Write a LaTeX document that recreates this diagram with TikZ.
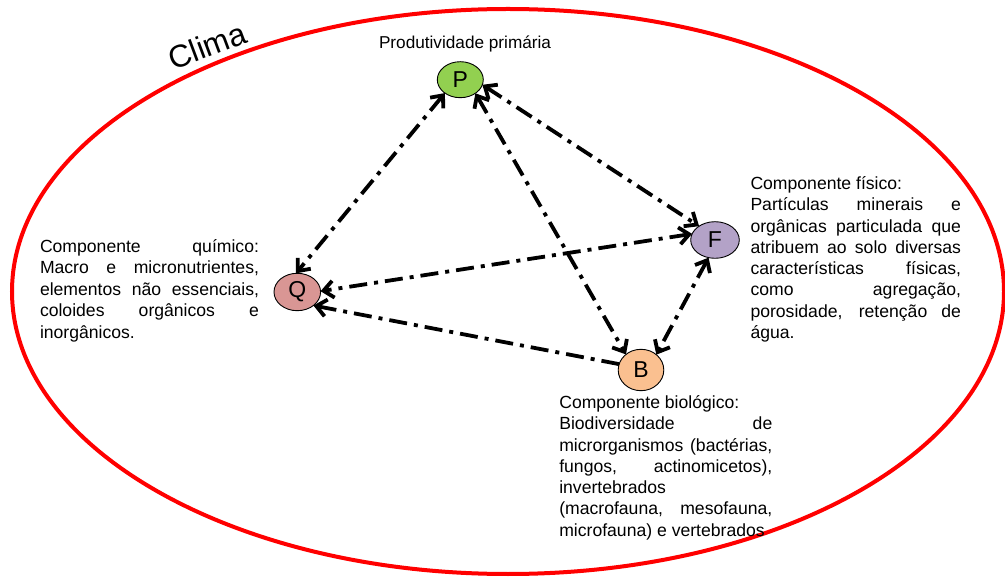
\documentclass[tikz,border=0pt]{standalone}
\usepackage{fontspec}
\setmainfont{Liberation Sans}
\usetikzlibrary{shapes.geometric,arrows.meta}
\definecolor{pgreen}{HTML}{92D050}
\definecolor{qred}{HTML}{D99694}
\definecolor{flav}{HTML}{B3A2C7}
\definecolor{bpeach}{HTML}{FAC090}
\definecolor{climared}{HTML}{FF0000}
\newcommand{\jst}[1]{\makebox[\linewidth][s]{#1}\par}
\newcommand{\rgd}[1]{\mbox{#1}\par}
\tikzset{
  comp/.style={ellipse, draw=black, line width=0.9pt, inner sep=0pt, outer sep=0pt,
    font=\fontsize{23}{25}\selectfont},
  link/.style={line width=3.8pt, dash pattern=on 18pt off 7pt on 4pt off 7pt,
    {Straight Barb[length=10pt,width=17pt]}-{Straight Barb[length=10pt,width=17pt]}},
  oneway/.style={line width=3.8pt, dash pattern=on 18pt off 7pt on 4pt off 7pt,
    -{Straight Barb[length=10pt,width=17pt]}},
  desc/.style={anchor=base west, inner sep=0pt, outer sep=0pt, align=left}
}
\begin{document}
\begin{tikzpicture}[x=1pt,y=-1pt]
\useasboundingbox (0,0) rectangle (1005,577);
% climate ellipse
\draw[climared, line width=4pt] (508,291.5) ellipse [x radius=496, y radius=282.5];
\node[rotate=20.5, anchor=base, inner sep=0pt, font=\fontsize{31.5}{34}\selectfont] (clima) at (211,56) {Clima};
% components
\node[comp, fill=pgreen, minimum width=46pt, minimum height=36pt] (P) at (460.3,79.7) {P};
\node[comp, fill=qred, minimum width=46.6pt, minimum height=37.4pt] (Q) at (297.3,292) {Q};
\node[comp, fill=flav, minimum width=48.6pt, minimum height=36.6pt] (F) at (715,240) {F};
\node[comp, fill=bpeach, minimum width=45.6pt, minimum height=41.4pt] (B) at (641,370) {B};
% connectors
\draw[link] (P.221) -- (Q.94);
\draw[link] (P.347) -- (F.139);
\draw[link] (P.318) -- (B.134);
\draw[link] (F.250) -- (B.45);
\draw[link] (F.165) -- (Q.2);
\draw[oneway] (B.165) -- (Q.320);
% texts
\node[desc, font=\fontsize{17.2}{20}\selectfont] (ptxt) at (379,49) {Produtividade primária};
\node[desc] (qtxt) at (40,252.5) {\parbox[t]{219pt}{\fontsize{17.6}{21.4}\selectfont
\jst{Componente químico:}
\jst{Macro e micronutrientes,}
\jst{elementos não essenciais,}
\jst{coloides orgânicos e}
\rgd{inorgânicos.}}};
\node[desc] (ftxt) at (750.5,189.5) {\parbox[t]{210.5pt}{\fontsize{17.6}{21.3}\selectfont
\rgd{Componente físico:}
\jst{Partículas minerais e}
\jst{orgânicas particulada que}
\jst{atribuem ao solo diversas}
\jst{características físicas,}
\jst{como agregação,}
\jst{porosidade, retenção de}
\rgd{água.}}};
\node[desc] (btxt) at (559.3,408.5) {\parbox[t]{213pt}{\fontsize{17.6}{21.3}\selectfont
\rgd{Componente biológico:}
\jst{Biodiversidade de}
\jst{microrganismos (bactérias,}
\jst{fungos, actinomicetos),}
\rgd{invertebrados}
\jst{(macrofauna, mesofauna,}
\rgd{microfauna) e vertebrados}}};
\end{tikzpicture}
\end{document}
